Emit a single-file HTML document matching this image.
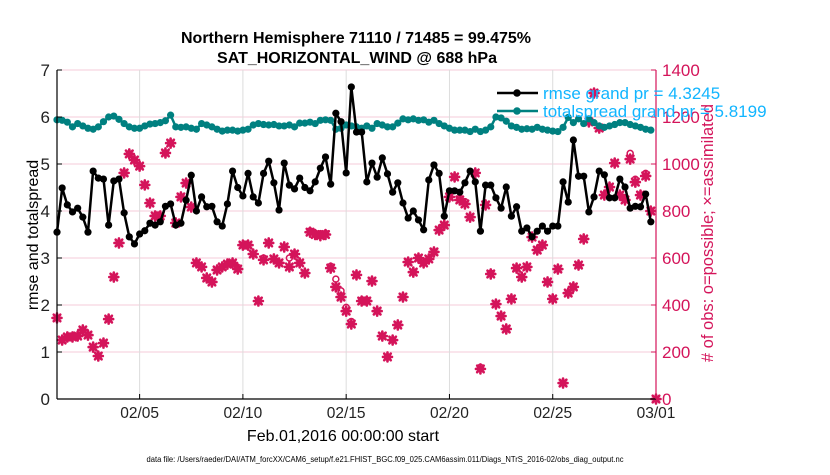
<!DOCTYPE html>
<html><head><meta charset="utf-8"><style>
body{margin:0;background:#fff;width:830px;height:470px;overflow:hidden;font-family:"Liberation Sans",Arial,sans-serif}
</style></head><body>
<svg id="c" width="830" height="470" xmlns="http://www.w3.org/2000/svg" font-family="Liberation Sans, Arial, sans-serif">
<text x="356" y="43" text-anchor="middle" font-size="16" font-weight="bold">Northern Hemisphere 71110 / 71485 = 99.475%</text>
<text x="357" y="63" text-anchor="middle" font-size="16" font-weight="bold">SAT_HORIZONTAL_WIND @ 688 hPa</text>
<g id="grid"></g>
<g id="obs"></g>
<g id="lines"></g>
<g id="axes"></g>
<text transform="translate(38,235) rotate(-90)" text-anchor="middle" font-size="16">rmse and totalspread</text>
<text transform="translate(713,233) rotate(-90)" text-anchor="middle" font-size="16.5" fill="#d4145a"># of obs: o=possible; ×=assimilated</text>
<text x="343" y="441" text-anchor="middle" font-size="16">Feb.01,2016 00:00:00 start</text>
<text x="385" y="462" text-anchor="middle" font-size="8" textLength="477" lengthAdjust="spacingAndGlyphs">data file: /Users/raeder/DAI/ATM_forcXX/CAM6_setup/f.e21.FHIST_BGC.f09_025.CAM6assim.011/Diags_NTrS_2016-02/obs_diag_output.nc</text>
<g>
<line x1="497" y1="93" x2="538" y2="93" stroke="#000" stroke-width="2.5"/><circle cx="517" cy="93" r="3.8" fill="#000"/>
<text x="543" y="99" font-size="17" fill="#11b5ff">rmse grand pr = 4.3245</text>
<line x1="497" y1="111" x2="538" y2="111" stroke="#008080" stroke-width="2.5"/><circle cx="517" cy="111" r="3.8" fill="#008080"/>
<text x="543" y="117" font-size="17" fill="#11b5ff">totalspread grand pr = 5.8199</text>
</g>
</svg>
<script>
const rmse=[3.55,4.49,4.13,3.98,4.06,3.87,3.55,4.85,4.7,4.68,3.7,4.64,4.68,3.96,3.45,3.3,3.51,3.58,3.74,3.7,3.77,4.1,4.15,3.7,3.74,4.23,4.76,4.0,4.3,4.09,4.1,3.77,3.68,4.15,4.85,4.5,4.32,4.8,4.3,4.17,4.8,5.06,4.6,4.02,5.02,4.55,4.47,4.7,4.5,4.43,4.62,4.91,5.15,4.57,6.08,
5.9,4.81,6.64,5.68,5.68,4.62,5.02,4.72,5.13,4.79,4.4,4.6,4.17,3.85,4.0,3.81,3.6,4.66,4.98,4.8,3.89,4.43,4.43,4.4,4.6,4.85,4.62,3.57,4.55,4.55,4.28,4.06,4.51,3.89,4.09,3.57,3.64,3.45,3.57,3.68,3.57,3.68,3.68,4.62,4.19,5.51,4.74,4.74,3.98,4.3,4.85,4.77,4.28,4.28,4.68,4.51,4.06,4.1,4.09,4.36,3.77];
const spread=[5.94,5.93,5.89,5.79,5.86,5.81,5.76,5.74,5.79,5.9,6.0,6.02,5.95,5.86,5.79,5.76,5.76,5.81,5.85,5.86,5.88,5.92,6.04,5.79,5.78,5.79,5.76,5.74,
5.86,5.83,5.79,5.74,5.7,5.72,5.72,5.7,5.72,5.74,5.83,5.86,5.84,5.83,5.84,5.81,5.81,5.83,5.79,5.87,5.87,5.89,5.86,5.93,5.94,5.93,5.74,5.76,5.83,
5.81,5.79,5.76,5.81,5.76,5.86,5.83,5.79,5.79,5.87,5.96,5.94,5.96,5.93,5.94,5.89,5.93,5.86,5.81,5.76,5.72,5.72,5.72,5.69,5.74,5.69,5.72,5.79,6.0,
5.98,5.91,5.81,5.78,5.74,5.75,5.74,5.78,5.74,5.72,5.7,5.69,5.78,5.99,5.88,5.96,5.86,5.96,5.88,5.81,5.78,5.81,5.84,5.88,5.88,5.84,5.81,5.78,5.74,5.72];
const obsUsed=[345,251,264,264,268,294,272,221,183,238,340,519,664,962,1043,1017,991,911,834,779,779,1047,1089,749,860,919,817,579,562,515,498,549,562,574,579,553,655,655,617,417,592,664,596,579,647,562,617,579,536,710,700,695,700,557,477,434,374,319,528,417,417,502,374,268,179,251,315,434,583,540,600,579,596,626,719,740,860,945,847,830,774,962,128,826,532,404,353,298,426,557,519,562,689,634,655,498,426,553,68,451,477,570,681,1179,1302,1153,868,902,1004,868,847,1021,923,868,949,800,0];
const obsPossible=[345,251,264,264,268,294,272,221,183,238,340,519,664,962,1043,1017,991,911,834,779,779,1047,1089,749,860,919,817,579,562,515,498,549,562,574,579,560,655,655,617,417,600,664,596,579,647,600,617,579,536,715,705,700,705,565,510,460,390,330,528,420,420,502,374,268,179,251,315,434,583,540,600,579,596,626,719,740,860,945,855,840,774,962,135,826,535,404,353,298,426,557,519,562,689,634,655,498,426,553,68,451,477,570,681,1179,1302,1153,868,902,1004,868,850,1045,935,868,960,800,0];
const yTicks=[0,1,2,3,4,5,6,7];
const y2Ticks=[0,200,400,600,800,1000,1200,1400];
const xTickDays=[4,9,14,19,24,29];
const xTickLabels=["02/05","02/10","02/15","02/20","02/25","03/01"];
const stepDays=0.25;

const NS="http://www.w3.org/2000/svg";
const L=57,R=656,T=70,B=399,D0=0,D1=29;
const X=d=>L+(d-D0)/(D1-D0)*(R-L);
const Y=v=>B-v/7*(B-T);
const Y2=v=>B-v/1400*(B-T);
const CR="#d4145a";
function mk(p,tag,a){const e=document.createElementNS(NS,tag);for(const k in a)e.setAttribute(k,a[k]);p.appendChild(e);return e;}
const g=document.getElementById('grid'),ax=document.getElementById('axes'),ob=document.getElementById('obs'),ln=document.getElementById('lines');
yTicks.forEach(v=>{if(v>0){const e=mk(g,'line',{x1:L,x2:R,y1:Y(v),y2:Y(v),stroke:'#f4cbd8','stroke-width':1});

}
const t=mk(ax,'text',{x:L-7,y:Y(v)+6,'text-anchor':'end','font-size':17,fill:'#222'});t.textContent=v;


mk(ax,'line',{x1:L,x2:L+5,y1:Y(v),y2:Y(v),stroke:'#000'});});
y2Ticks.forEach(v=>{const t=mk(ax,'text',{x:R+6,y:Y2(v)+6,'font-size':17,fill:CR});t.textContent=v;


mk(ax,'line',{x1:R-5,x2:R,y1:Y2(v),y2:Y2(v),stroke:CR});});
xTickDays.forEach((d,i)=>{const e=mk(g,'line',{x1:X(d),x2:X(d),y1:T,y2:B,stroke:'#dcdcdc','stroke-width':1});


const t=mk(ax,'text',{x:X(d),y:B+19,'text-anchor':'middle','font-size':15.5,fill:'#222'});t.textContent=xTickLabels[i];


mk(ax,'line',{x1:X(d),x2:X(d),y1:B,y2:B-5,stroke:'#000'});});
mk(ax,'line',{x1:L,x2:L,y1:T,y2:B,stroke:'#000','stroke-width':1.2});
mk(ax,'line',{x1:L,x2:R,y1:B,y2:B,stroke:'#000','stroke-width':1.2});
mk(ax,'line',{x1:R,x2:R,y1:T,y2:B,stroke:CR,'stroke-width':1.2});
obsPossible.forEach((v,i)=>{const c=mk(ob,'circle',{cx:X(i*stepDays),cy:Y2(v),r:3,fill:'none',stroke:CR,'stroke-width':1.5});

});
obsUsed.forEach((v,i)=>{const x=X(i*stepDays),y=Y2(v),s=4.5;
const p=mk(ob,'path',{d:`M${x-s} ${y}L${x+s} ${y}M${x} ${y-s}L${x} ${y+s}M${x-3.3} ${y-3.3}L${x+3.3} ${y+3.3}M${x-3.3} ${y+3.3}L${x+3.3} ${y-3.3}`,stroke:CR,'stroke-width':2.6,'stroke-linecap':'round'});

});
function series(arr,col,name){const d=arr.map((v,i)=>(i?'L':'M')+X(i*stepDays).toFixed(1)+' '+Y(v).toFixed(1)).join('');
const p=mk(ln,'path',{d:d,fill:'none',stroke:col,'stroke-width':2.5,'stroke-linejoin':'round'});


arr.forEach((v,i)=>{const c=mk(ln,'circle',{cx:X(i*stepDays),cy:Y(v),r:3.6,fill:col});

});}
series(spread,'#008080','totalspread');
series(rmse,'#000','rmse');
</script>
</body></html>
